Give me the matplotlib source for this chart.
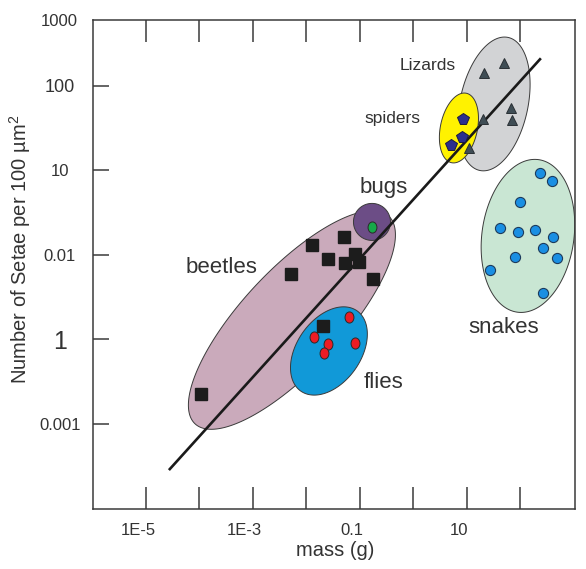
import numpy as np
import matplotlib.pyplot as plt
from matplotlib.path import Path
from matplotlib.transforms import Affine2D, ScaledTranslation

plt.rcParams['font.family'] = ['Liberation Sans', 'DejaVu Sans']
plt.rcParams['mathtext.fontset'] = 'custom'
plt.rcParams['mathtext.rm'] = 'Liberation Sans'

# values (mass in g, setae on the plotted log scale)
beetles_mass = [0.0128, 0.0508, 0.0255, 0.00518, 0.0531, 0.0817, 0.0970, 0.177, 0.0206, 0.000107]
beetles_setae = [1.31, 1.63, 0.90, 0.60, 0.80, 1.03, 0.83, 0.52, 0.145, 0.0226]

flies_mass = [0.0630, 0.0139, 0.0255, 0.0214, 0.0817]
flies_setae = [0.185, 0.107, 0.0885, 0.0692, 0.091]

bugs_mass = [0.170]
bugs_setae = [2.14]

spiders_mass = [8.57, 8.20, 5.11]
spiders_setae = [40.6, 24.9, 20.0]

lizards_mass = [21.2, 50.1, 67.8, 70.8, 20.3, 11.1]
lizards_setae = [142.6, 187.0, 55.0, 39.6, 40.6, 18.5]

snakes_mass = [237, 397, 100, 42.3, 91.6, 191, 414, 269, 80.5, 492, 27.4, 269]
snakes_setae = [9.33, 7.52, 4.24, 2.09, 1.87, 1.98, 1.63, 1.21, 0.946, 0.92, 0.664, 0.355]

# power-law fit drawn through the groups
fit_coef = 4.5
fit_exp = 0.70
fit_range = [2.8e-5, 237]

x_ticks = [1e-5, 1e-4, 1e-3, 1e-2, 1e-1, 1, 10, 100]
x_labels = ['1E-5', '', '1E-3', '', '0.1', '', '10', '']
y_ticks = [10**2.78, 100, 10, 1, 0.1, 0.01]
y_labels = ['1000', '100', '10', '0.01', '1', '0.001']

W, H = 586, 569
fig = plt.figure(figsize=(W / 100, H / 100), dpi=100)
ax = fig.add_axes([93 / W, 1 - 509 / H, (575 - 93) / W, (509 - 20) / H])
ax.set_xscale('log')
ax.set_yscale('log')
ax.set_xlim(10**-5.99, 10**3.03)
ax.set_ylim(10**-3.006, 10**2.78)
ax.set_autoscale_on(False)

edge = '#3a3a3a'


def blob(cx, cy, a, b, ang, fc, z):
    # ellipse given in screen pixels around a data centre
    t = np.linspace(0, 2 * np.pi, 300)
    px, py = ax.transData.transform((cx, cy))
    th = np.radians(ang)
    dx = a * np.cos(t) * np.cos(th) - b * np.sin(t) * np.sin(th)
    dy = a * np.cos(t) * np.sin(th) + b * np.sin(t) * np.cos(th)
    pts = ax.transData.inverted().transform(np.column_stack([px + dx, py + dy]))
    ax.fill(pts[:, 0], pts[:, 1], fc=fc, ec=edge, lw=0.7, zorder=z)


blob(0.0054, 0.170, 142, 50, 47, '#caaabb', 1)
blob(0.0266, 0.0731, 49, 32, 55, '#1199d8', 2)
blob(0.170, 2.46, 18.5, 18.5, 0, '#6c4d86', 2)
blob(32.6, 61.2, 68, 34, 78, '#d2d3d5', 1)
blob(7.21, 31.8, 35.5, 18.5, 78, '#fff200', 2)
blob(141, 1.68, 77, 46, 82, '#c9e6d3', 1)

fx = np.logspace(np.log10(fit_range[0]), np.log10(fit_range[1]), 50)
ax.plot(fx, fit_coef * fx**fit_exp, color='#1a1a1a', lw=1.9, zorder=3)

oval = Path.unit_circle().transformed(Affine2D().scale(0.8, 1.0))
ax.plot(beetles_mass, beetles_setae, 's', ms=8, color='#1c1c1c', mec='#1c1c1c', zorder=4)
ax.plot(flies_mass, flies_setae, marker=oval, ls='none', ms=8, mfc='#ec1c24', mec='#2a2a2a', mew=0.7, zorder=4)
ax.plot(bugs_mass, bugs_setae, marker=oval, ls='none', ms=8, mfc='#16a84a', mec='#2a2a2a', mew=0.7, zorder=4)
ax.plot(spiders_mass, spiders_setae, 'p', ms=8.5, mfc='#2b2f8f', mec='#1a1a40', mew=0.7, zorder=4)
ax.plot(lizards_mass, lizards_setae, '^', ms=7.5, mfc='#3f4d55', mec='#2a3035', mew=0.7, zorder=4)
ax.plot(snakes_mass, snakes_setae, 'o', ms=7.3, mfc='#1a8fe3', mec='#1d3b5c', mew=0.8, zorder=4)

txt = '#333333'
ax.text(10**0.28, 10**2.24, 'Lizards', fontsize=12.5, color=txt, ha='center', va='center')
ax.text(10**-0.38, 10**1.61, 'spiders', fontsize=12.5, color=txt, ha='center', va='center')
ax.text(10**-0.55, 10**0.80, 'bugs', fontsize=16, color=txt, ha='center', va='center')
ax.text(10**-3.58, 10**-0.15, 'beetles', fontsize=16, color=txt, ha='center', va='center')
ax.text(10**-0.55, 10**-1.51, 'flies', fontsize=16, color=txt, ha='center', va='center')
ax.text(10**1.70, 10**-0.86, 'snakes', fontsize=16, color=txt, ha='center', va='center')

for s in ax.spines.values():
    s.set_color('#3a3a3a')
    s.set_linewidth(1.1)

ax.set_xticks(x_ticks)
ax.set_xticklabels(x_labels)
ax.minorticks_off()
ax.tick_params(axis='x', which='major', direction='in', length=16, width=1.1,
               color='#3a3a3a', top=True, labelsize=12, labelcolor=txt, pad=10)
shift = ScaledTranslation(-8 / 100, 0, fig.dpi_scale_trans)
for lab in ax.get_xticklabels():
    lab.set_transform(lab.get_transform() + shift)

ax.set_yticks(y_ticks)
ax.set_yticklabels(y_labels)
ax.minorticks_off()
ax.tick_params(axis='y', which='major', direction='in', length=11.5, width=1.1,
               color='#3a3a3a', labelsize=12, labelcolor=txt, pad=24)
for lab in ax.get_yticklabels():
    lab.set_horizontalalignment('center')
ax.get_yticklabels()[1].set_fontsize(13)
ax.get_yticklabels()[4].set_fontsize(18)
ax.yaxis.get_major_ticks()[0].tick1line.set_visible(False)

fig.text(335 / W, 1 - 551 / H, 'mass (g)', fontsize=14.5, color=txt, ha='center', va='center')
fig.text(20 / W, 1 - 249 / H, r'Number of Setae per 100 µm$^2$', fontsize=14.5, color=txt,
         rotation=90, ha='center', va='center')

fig.savefig('out.png', dpi=100)
